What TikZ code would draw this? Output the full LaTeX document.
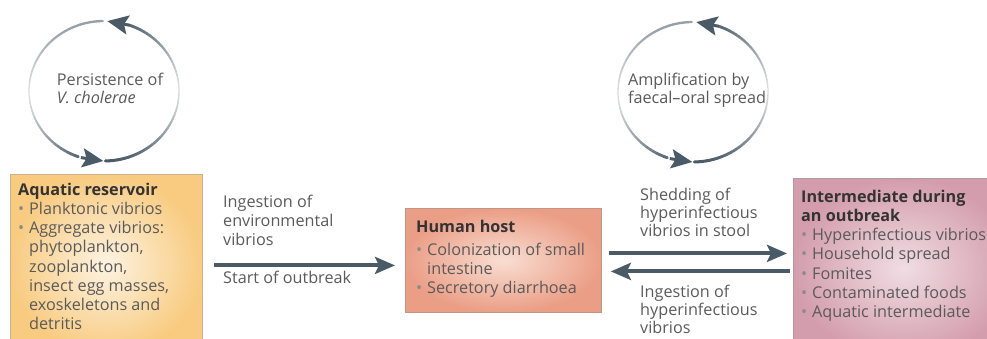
\documentclass[tikz,border=0pt]{standalone}
\usepackage{fontspec}
\setmainfont{Open Sans}
\usetikzlibrary{arrows.meta,calc}
\definecolor{arr}{HTML}{4A5B67}
\definecolor{txt}{HTML}{5A5A5A}
\definecolor{head}{HTML}{333333}
\definecolor{bulc}{HTML}{8A8A8A}
\definecolor{aqOut}{HTML}{F8CB80}
\definecolor{aqIn}{HTML}{FDF3E2}
\definecolor{aqBd}{HTML}{C9B28C}
\definecolor{huOut}{HTML}{EB9E86}
\definecolor{huIn}{HTML}{F9DED3}
\definecolor{huBd}{HTML}{C49484}
\definecolor{inOut}{HTML}{D49DAE}
\definecolor{inIn}{HTML}{F0DDE3}
\definecolor{inBd}{HTML}{B597A1}
\newcommand{\bul}{\makebox[11pt][l]{\textcolor{bulc}{•}}}
\newcommand{\ind}{\hspace*{11pt}}
\newcommand{\tp}{\rule{0pt}{13pt}}
\begin{document}
\begin{tikzpicture}[x=1pt,y=-1pt,
  box/.style={anchor=north west, inner sep=0pt, line width=0.8pt},
  txtblock/.style={anchor=north west, inner sep=0pt, align=left, text=txt,
     font=\fontsize{16.2}{19.2}\selectfont},
  tight/.style={font=\fontsize{16.2}{18.2}\selectfont},
  bigarrow/.style={draw=arr, line width=4pt,
     -{Stealth[length=20pt,width=17pt,inset=4pt]}},
  cyclehead/.style={draw=arr, line width=3pt,
     -{Stealth[length=21pt,width=19pt,inset=4pt]}}
]
\useasboundingbox (0,0) rectangle (987,338);
\clip (0,0) rectangle (987,338);

% boxes
\node[box, draw=aqBd, inner color=aqIn, outer color=aqOut,
  minimum width=192pt, minimum height=180pt] (aq) at (10,174) {};
\node[box, draw=huBd, inner color=huIn, outer color=huOut,
  minimum width=196pt, minimum height=104pt] (hu) at (405,208) {};
\node[box, draw=inBd, inner color=inIn, outer color=inOut,
  minimum width=220pt, minimum height=180pt] (im) at (793,178) {};

% box texts
\node[txtblock] (aqtxt) at (18,182) {\tp\textcolor{head}{\textbf{Aquatic reservoir}}\\
  \bul Planktonic vibrios\\
  \bul Aggregate vibrios:\\
  \ind phytoplankton,\\
  \ind zooplankton,\\
  \ind insect egg masses,\\
  \ind exoskeletons and\\
  \ind detritis};
\node[txtblock] (hutxt) at (416,219) {\tp\textcolor{head}{\textbf{Human host}}\\[4pt]
  \bul Colonization of small\\
  \ind intestine\\
  \bul Secretory diarrhoea};
\node[txtblock] (imtxt) at (801,189) {\tp\textcolor{head}{\textbf{Intermediate during}}\\
  \textcolor{head}{\textbf{an outbreak}}\\
  \bul Hyperinfectious vibrios\\
  \bul Household spread\\
  \bul Fomites\\
  \bul Contaminated foods\\
  \bul Aquatic intermediate};

% arrow labels
\node[txtblock] (l1) at (223,194) {\tp Ingestion of\\environmental\\vibrios};
\node[txtblock] (l2) at (223,270) {\tp Start of outbreak};
\node[txtblock, tight] (l3) at (640,187) {\tp Shedding of\\hyperinfectious\\vibrios in stool};
\node[txtblock, tight] (l4) at (640,284) {\tp Ingestion of\\hyperinfectious\\vibrios};

% horizontal arrows
\draw[bigarrow] ($(aq.east)+(11,1)$) -- ($(aq.east -| hu.west)+(-10,1)$);
\draw[bigarrow] ($(hu.east)+(7,-7)$) -- ($(hu.east -| im.west)+(-6,-7)$);
\draw[bigarrow] ($(hu.east -| im.west)+(-3,11)$) -- ($(hu.east)+(9,11)$);

% cycles
\foreach \cx/\cy/\nm in {104/91/cl, 693/92/cr}{
  \coordinate (\nm) at (\cx,\cy);
  % right arc: bottom -> top
  \foreach \a in {89,86,...,-67}{
    \pgfmathsetmacro\w{abs(sin(\a))}
    \pgfmathsetmacro\c{20+80*\w^1.5}
    \pgfmathsetmacro\lw{1.2+1.8*\w}
    \draw[color=arr!\c!white, line width=\lw pt, line cap=round]
      ($(\nm)+({75*cos(\a)},{70*sin(\a)})$) -- ($(\nm)+({75*cos(\a-3)},{70*sin(\a-3)})$);
  }
  \draw[cyclehead] ($(\nm)+({75*cos(-70)},{70*sin(-70)})$) -- ($(\nm)+({75*cos(-87.5)},{70*sin(-87.5)})$);
  % left arc: top -> bottom
  \foreach \a in {-91,-94,...,-249}{
    \pgfmathsetmacro\w{abs(sin(\a))*(0.6+0.4*(-91-\a)/158)}
    \pgfmathsetmacro\c{20+80*\w^1.5}
    \pgfmathsetmacro\lw{1.2+1.8*\w}
    \draw[color=arr!\c!white, line width=\lw pt, line cap=round]
      ($(\nm)+({75*cos(\a)},{70*sin(\a)})$) -- ($(\nm)+({75*cos(\a-3)},{70*sin(\a-3)})$);
  }
  \draw[cyclehead] ($(\nm)+({75*cos(-252)},{70*sin(-252)})$) -- ($(\nm)+({75*cos(-269.5)},{70*sin(-269.5)})$);
}
\node[txtblock, tight, anchor=north] (ct1) at (110,72) {\tp Persistence of\\\textit{V. cholerae}};
\node[txtblock, tight, anchor=north] (ct2) at (697,72) {\tp Amplification by\\faecal–oral spread};
\end{tikzpicture}
\end{document}
